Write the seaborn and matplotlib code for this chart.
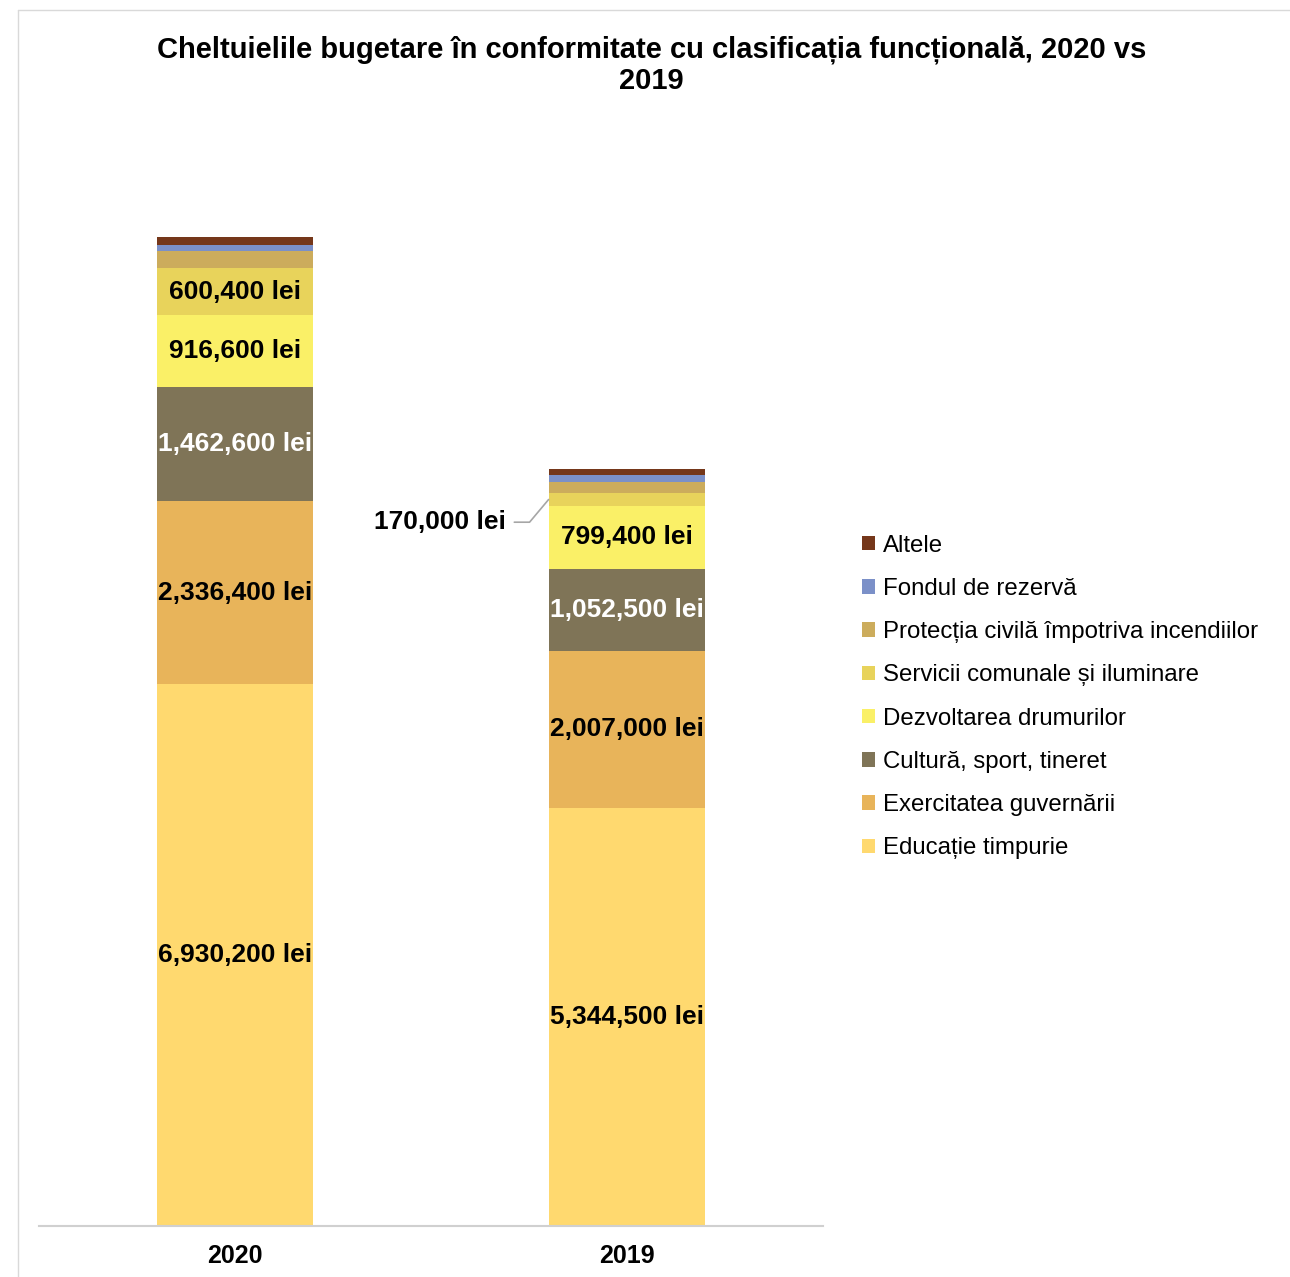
import matplotlib
matplotlib.use("Agg")
import matplotlib.pyplot as plt
from matplotlib.patches import Patch
from matplotlib.lines import Line2D
import seaborn as sns
import pandas as pd

years = ["2020", "2019"]
categories = [
    "Educație timpurie",
    "Exercitatea guvernării",
    "Cultură, sport, tineret",
    "Dezvoltarea drumurilor",
    "Servicii comunale și iluminare",
    "Protecția civilă împotriva incendiilor",
    "Fondul de rezervă",
    "Altele",
]
values_2020 = [6930200, 2336400, 1462600, 916600, 600400, 217000, 77000, 100000]
values_2019 = [5344500, 2007000, 1052500, 799400, 170000, 140000, 85000, 77000]
colors = ["#FFD96F", "#E8B45A", "#7F7457", "#FAF067", "#E8D35B", "#CCAC5C", "#7B90C8", "#75371A"]
label_colors = ["black", "black", "white", "black", "black", None, None, None]

sns.set_theme(style="white")
plt.rcParams["font.family"] = ["Liberation Sans", "DejaVu Sans"]
plt.rcParams["text.color"] = "black"
plt.rcParams["xtick.color"] = "black"

df = pd.DataFrame({"year": years})
for i, cat in enumerate(categories):
    df[cat] = [values_2020[i], values_2019[i]]
cum = df[categories].cumsum(axis=1)

fig = plt.figure(figsize=(12.9, 12.77), dpi=100)
ax = fig.add_axes([39 / 1290, 1 - 1226 / 1277, 784 / 1290, (1226 - 131) / 1277])

# stacked bars: draw cumulative totals from top segment down
for i in range(len(categories) - 1, -1, -1):
    sns.barplot(x=df["year"], y=cum[categories[i]], color=colors[i], width=0.4,
                saturation=1, ax=ax, linewidth=0)

ax.set_xlim(-0.5, 1.5)
ax.set_ylim(0, 14000000)

# segment labels
for j in range(len(years)):
    for i, cat in enumerate(categories):
        if label_colors[i] is None:
            continue
        v = df.loc[j, cat]
        mid = cum.loc[j, cat] - v / 2
        txt = f"{v:,.0f} lei"
        if j == 1 and cat == "Servicii comunale și iluminare":
            ax.annotate(txt, xy=(j - 0.2, mid), xytext=(j - 0.31, mid - 290000),
                        ha="right", va="center", fontsize=19, fontweight="bold",
                        color="black",
                        arrowprops=dict(arrowstyle="-", color="#A6A6A6", lw=1.2,
                                        shrinkA=4, shrinkB=0,
                                        connectionstyle="angle,angleA=0,angleB=50,rad=0"))
        else:
            ax.text(j, mid, txt, ha="center", va="center", fontsize=19,
                    fontweight="bold", color=label_colors[i])

sns.despine(ax=ax, left=True, top=True, right=True)
ax.spines["bottom"].set_color("#D0D0D0")
ax.spines["bottom"].set_linewidth(1.5)
ax.set_yticks([])
ax.set_xlabel("")
ax.set_ylabel("")
ax.set_xticks([0, 1])
ax.set_xticklabels(years, fontsize=18, fontweight="bold")
ax.tick_params(axis="x", length=0, pad=13)
ax.set_xticks([-0.5, 0.5, 1.5], minor=True)
ax.tick_params(axis="x", which="minor", length=7, width=1.5, color="#D0D0D0", direction="out")

fig.suptitle("Cheltuielile bugetare în conformitate cu clasificația funcțională, 2020 vs\n2019",
             fontsize=21, fontweight="bold", y=1 - 36 / 1277, va="top", x=0.505,
             linespacing=1.1)

handles = [Patch(facecolor=colors[i], edgecolor="none") for i in range(len(categories) - 1, -1, -1)]
labels = [categories[i] for i in range(len(categories) - 1, -1, -1)]
fig.legend(handles, labels, loc="upper left", bbox_to_anchor=(852 / 1290, 1 - 525 / 1277),
           frameon=False, fontsize=17.3, handlelength=0.55, handleheight=0.55,
           handletextpad=0.35, labelspacing=0.885, borderaxespad=0)

# outer chart frame
fig.add_artist(Line2D([18 / 1290, 18 / 1290], [0, 1 - 10 / 1277], color="#D9D9D9", lw=1,
                      transform=fig.transFigure))
fig.add_artist(Line2D([18 / 1290, 1], [1 - 10 / 1277, 1 - 10 / 1277], color="#D9D9D9", lw=1,
                      transform=fig.transFigure))

fig.savefig("out.png", dpi=100)
